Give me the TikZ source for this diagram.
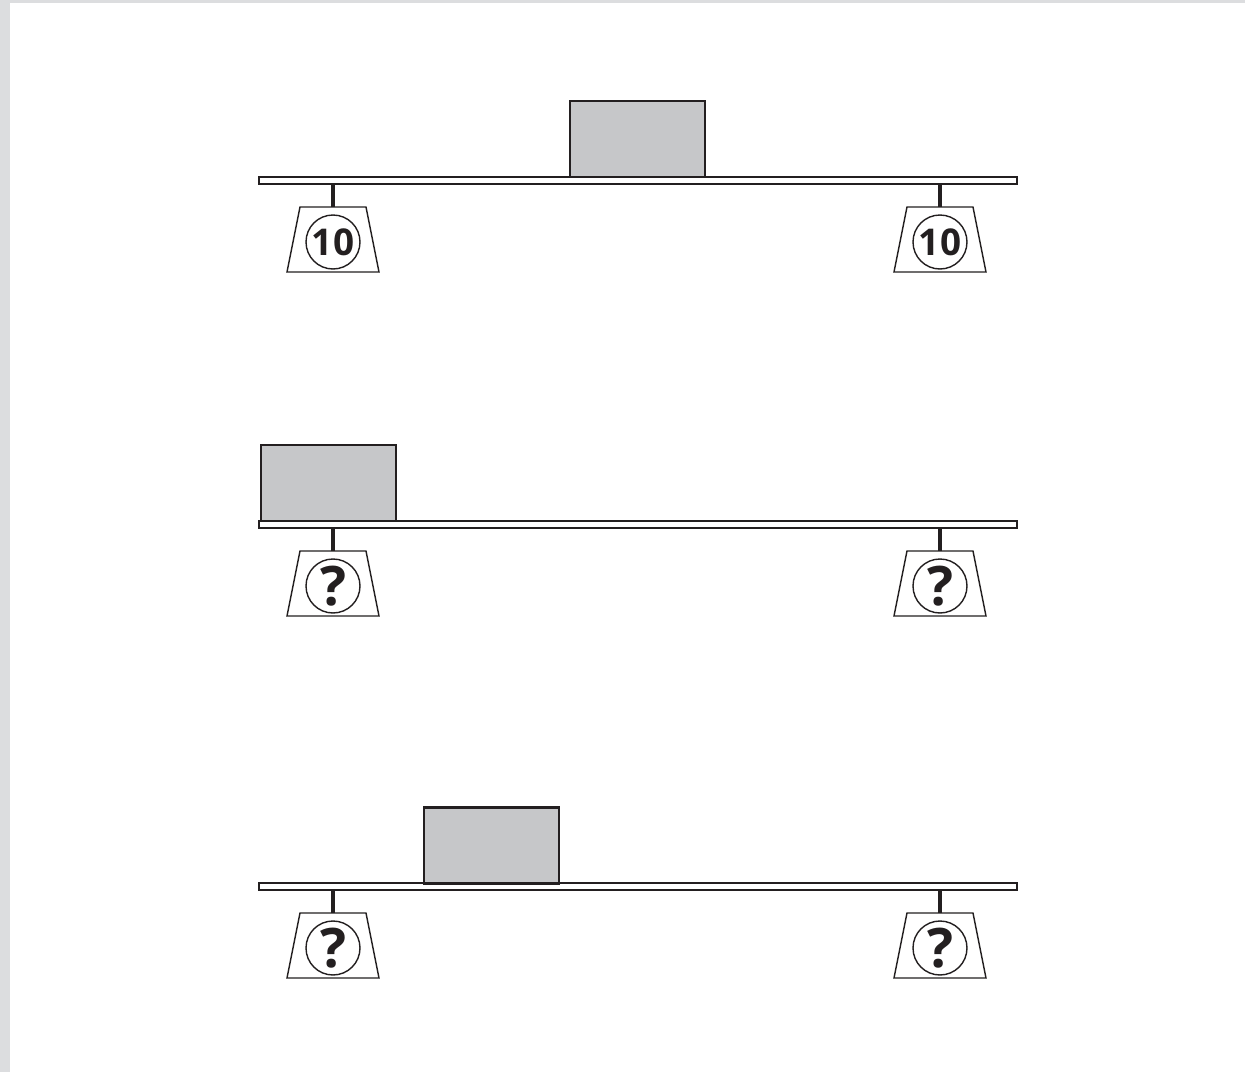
\documentclass[tikz,border=0pt]{standalone}
\usepackage{fontspec}
\setsansfont{Open Sans}
\usepackage{tikz}
\definecolor{blockgray}{HTML}{C6C7C9}
\definecolor{edgegray}{HTML}{DCDDDF}
\definecolor{ink}{HTML}{231F20}
\tikzset{
  board/.style={draw=ink,line width=0.8pt,fill=white},
  block/.style={draw=ink,line width=1.7pt,fill=blockgray},
  stem/.style={draw=ink,line width=2.3pt},
  scalebody/.style={draw=ink,line width=0.8pt,fill=white},
  dial/.style={circle,draw=ink,line width=0.8pt,minimum size=1.08cm,inner sep=0pt,
    text=ink,font=\sffamily\bfseries}
}
\begin{document}
\begin{tikzpicture}[x=0.02cm,y=-0.02cm]
\fill[edgegray] (0,0) rectangle (1245,1072);
\fill[white] (10,3) rectangle (1245,1072);
\useasboundingbox (0,0) rectangle (1245,1072);
% three boards, each on two scales
\foreach \by/\bx/\lbl/\fs/\n in {177/570/10/21/a,521/261/?/31/b,883/424/?/31/c}
{
  \draw[board] (259,\by) rectangle (1017,\by+7);
  \draw[block] (\bx,\by-76) rectangle (\bx+135,\by);
  \foreach \sx in {333,940}
  {
    \draw[stem] (\sx,\by+7) -- (\sx,\by+30);
    \draw[scalebody] (\sx-33,\by+30) -- (\sx+33,\by+30) -- (\sx+46,\by+95) -- (\sx-46,\by+95) -- cycle;
    \node[dial] (dial-\n-\sx) at (\sx,\by+65) {\fontsize{\fs}{\fs}\selectfont\lbl};
  }
}
\end{tikzpicture}
\end{document}
